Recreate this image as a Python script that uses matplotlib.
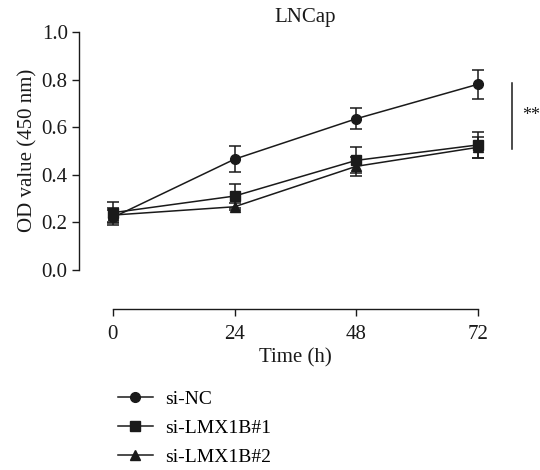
import matplotlib
matplotlib.use("Agg")
import matplotlib.pyplot as plt
from matplotlib.lines import Line2D

times = [0, 24, 48, 72]
series_names = ["si-NC", "si-LMX1B#1", "si-LMX1B#2"]
nc_mean = [0.22, 0.465, 0.635, 0.78]
nc_err = [0.03, 0.055, 0.045, 0.06]
lmx1_mean = [0.24, 0.31, 0.46, 0.525]
lmx1_err = [0.045, 0.05, 0.055, 0.055]
lmx2_mean = [0.23, 0.265, 0.435, 0.515]
lmx2_err = [0.03, 0.015, 0.04, 0.045]
yticks = [0.0, 0.2, 0.4, 0.6, 0.8, 1.0]
xticks = [0, 24, 48, 72]
sig_range = [0.507, 0.787]
sig_label = "**"
title = "LNCap"

plt.rcParams['font.family'] = ['Liberation Serif', 'DejaVu Serif']
col = "#1a1a1a"
fs = 15

fig = plt.figure(figsize=(5.4, 4.7), dpi=100)
ax = fig.add_axes([0.209, 0.426, 0.676, 0.506])

markers = ["o", "s", "^"]
msizes = [7, 7, 7.5]
means = [nc_mean, lmx1_mean, lmx2_mean]
errs = [nc_err, lmx1_err, lmx2_err]
handles = []
for name, m, e, mk, ms in zip(series_names, means, errs, markers, msizes):
    ax.errorbar(times, m, yerr=e, color=col, marker=mk, markersize=ms,
                lw=1.1, elinewidth=1.1, capsize=4.5, capthick=1.1, clip_on=False)
    handles.append(Line2D([], [], color=col, marker=mk, markersize=ms, lw=1.1, label=name))

ax.set_xlim(0, 72)
ax.set_ylim(0, 1.0)
ax.set_xticks(xticks)
ax.set_yticks(yticks)
ax.set_yticklabels([f"{v:.1f}" for v in yticks])
for s in ["top", "right"]:
    ax.spines[s].set_visible(False)
ax.spines["left"].set_position(("outward", 24.5))
ax.spines["bottom"].set_position(("outward", 28))
for s in ["left", "bottom"]:
    ax.spines[s].set_color(col)
    ax.spines[s].set_linewidth(1.0)
ax.tick_params(axis="both", direction="out", length=5, width=1.0, color=col, labelsize=fs, labelcolor=col)
ax.tick_params(axis="y", pad=3)
ax.tick_params(axis="x", pad=7)
ax.set_xlabel("Time (h)", fontsize=fs, color=col, labelpad=3)
ax.set_ylabel("OD value (450 nm)", fontsize=fs, color=col, labelpad=3)

# significance bar
ax.plot([78.8, 78.8], sig_range, color=col, lw=1.1, clip_on=False)
ax.text(82.5, 0.65, sig_label, fontsize=13, color=col, ha="center", va="center")

fig.text(0.565, 0.963, title, fontsize=fs, color=col, ha="center", va="center")

fig.legend(handles=handles, loc="upper left", bbox_to_anchor=(0.205, 0.186), frameon=False,
           fontsize=14, handlelength=1.75, handletextpad=0.65, labelspacing=0.58, borderaxespad=0)

fig.savefig("out.png", dpi=100)
